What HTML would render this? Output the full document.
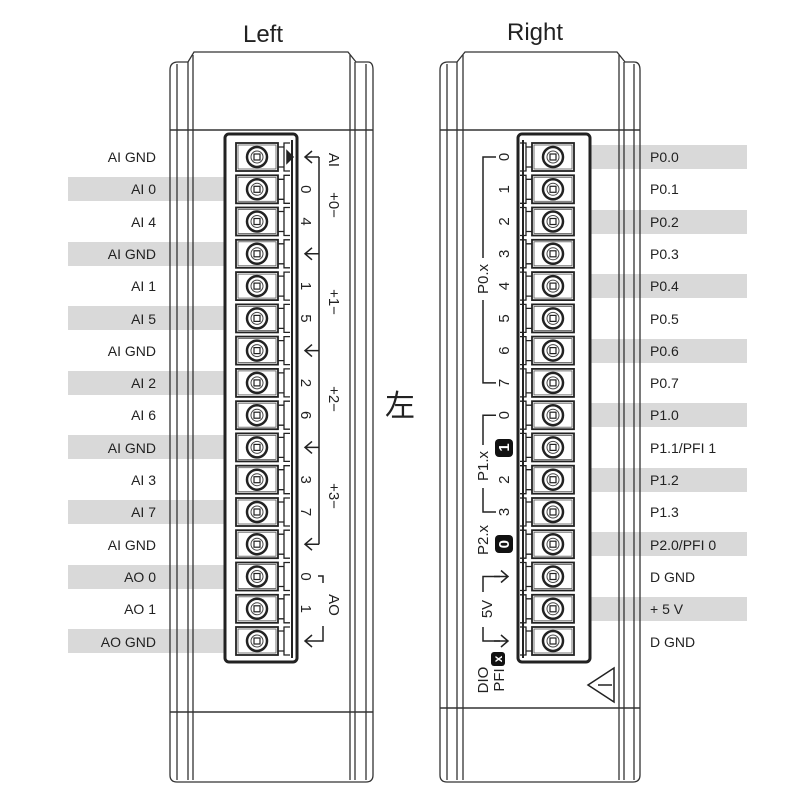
<!DOCTYPE html>
<html><head><meta charset="utf-8"><style>
html,body{margin:0;padding:0;background:#fff}
svg{display:block}
text{font-family:"Liberation Sans",sans-serif;fill:#222}
.lab{font-size:14px}
.rt{font-size:14px}
</style></head><body>
<svg width="800" height="800" viewBox="0 0 800 800" xmlns="http://www.w3.org/2000/svg">
<defs>
<g id="tl">
<rect x="-21" y="-14" width="42" height="28" fill="#fff" stroke="#222" stroke-width="1.8"/>
<rect x="-19" y="-12" width="38" height="24" fill="none" stroke="#555" stroke-width="0.8"/>
<circle r="10" fill="#fff" stroke="#222" stroke-width="2.5"/>
<circle r="6" fill="none" stroke="#444" stroke-width="1"/>
<rect x="-3" y="-3" width="6" height="6" fill="none" stroke="#222" stroke-width="1.2"/>
<path d="M21,-10 h6 v-4 h6 M21,10 h6 v4 h6 M27,-10 v20" fill="none" stroke="#222" stroke-width="1.3"/>
</g>
<g id="tr">
<rect x="-21" y="-14" width="42" height="28" fill="#fff" stroke="#222" stroke-width="1.8"/>
<rect x="-19" y="-12" width="38" height="24" fill="none" stroke="#555" stroke-width="0.8"/>
<circle r="10" fill="#fff" stroke="#222" stroke-width="2.5"/>
<circle r="6" fill="none" stroke="#444" stroke-width="1"/>
<rect x="-3" y="-3" width="6" height="6" fill="none" stroke="#222" stroke-width="1.2"/>
<path d="M-21,-10 h-6 v-4 h-6 M-21,10 h-6 v4 h-6 M-27,-10 v20" fill="none" stroke="#222" stroke-width="1.3"/>
</g>
<g id="arL"><path d="M0,0 h14 M7,-6 L0,0 L7,6" fill="none" stroke="#222" stroke-width="1.5"/></g>
<g id="arR"><path d="M0,0 h-14 M-7,-6 L0,0 L-7,6" fill="none" stroke="#222" stroke-width="1.5"/></g>
</defs>

<text x="263" y="42" font-size="24" text-anchor="middle" font-family="Liberation Sans">Left</text>
<text x="535" y="40" font-size="24" text-anchor="middle">Right</text>
<text x="400" y="416" font-size="30" text-anchor="middle" style="font-family:'Liberation Sans','Noto Sans CJK SC',sans-serif">左</text>

<!-- gray bars left -->
<g fill="#d9d9d9">
<rect x="68" y="177" width="156" height="24"/>
<rect x="68" y="242" width="156" height="24"/>
<rect x="68" y="306" width="156" height="24"/>
<rect x="68" y="371" width="156" height="24"/>
<rect x="68" y="435" width="156" height="24"/>
<rect x="68" y="500" width="156" height="24"/>
<rect x="68" y="565" width="156" height="24"/>
<rect x="68" y="629" width="156" height="24"/>
<!-- right -->
<rect x="590" y="145" width="157" height="24"/>
<rect x="590" y="210" width="157" height="24"/>
<rect x="590" y="274" width="157" height="24"/>
<rect x="590" y="339" width="157" height="24"/>
<rect x="590" y="403" width="157" height="24"/>
<rect x="590" y="468" width="157" height="24"/>
<rect x="590" y="532" width="157" height="24"/>
<rect x="590" y="597" width="157" height="24"/>
</g>

<!-- left device body -->
<g fill="none" stroke="#333" stroke-width="1.3">
<path d="M194,52 H348 L356,62 H368 Q373,62 373,70 V775 Q373,782 366,782 H177 Q170,782 170,775 V70 Q170,62 178,62 H188 Z"/>
<line x1="177" y1="64" x2="177" y2="780"/><line x1="188" y1="62" x2="188" y2="780"/><line x1="193" y1="55" x2="193" y2="780"/>
<line x1="350" y1="55" x2="350" y2="780"/><line x1="355" y1="62" x2="355" y2="780"/><line x1="366" y1="64" x2="366" y2="780"/>
<line x1="170" y1="130" x2="373" y2="130" stroke-width="1.6"/>
<line x1="170" y1="712" x2="373" y2="712" stroke-width="1.6"/>
</g>
<rect x="225" y="134" width="72" height="528" rx="4" fill="#fff" stroke="#222" stroke-width="3"/>
<line x1="292" y1="140" x2="292" y2="658" stroke="#222" stroke-width="2"/>

<!-- right device body -->
<g fill="none" stroke="#333" stroke-width="1.3">
<path d="M465,52 H617 L625,62 H634 Q640,62 640,70 V775 Q640,782 633,782 H447 Q440,782 440,775 V70 Q440,62 448,62 H457 Z"/>
<line x1="447" y1="64" x2="447" y2="780"/><line x1="457" y1="62" x2="457" y2="780"/><line x1="463" y1="55" x2="463" y2="780"/>
<line x1="619" y1="55" x2="619" y2="780"/><line x1="624" y1="62" x2="624" y2="780"/><line x1="634" y1="64" x2="634" y2="780"/>
<line x1="440" y1="130" x2="640" y2="130" stroke-width="1.6"/>
<line x1="440" y1="708" x2="640" y2="708" stroke-width="1.6"/>
</g>
<rect x="518" y="134" width="72" height="528" rx="4" fill="#fff" stroke="#222" stroke-width="3"/>
<line x1="523" y1="140" x2="523" y2="658" stroke="#222" stroke-width="2"/>
<path d="M614,668 L614,702 L588,685 Z M598,685 H612" fill="none" stroke="#222" stroke-width="1.5"/>

<!-- left terminals -->
<g>
<use href="#tl" x="257" y="157"/><use href="#tl" x="257" y="189.3"/><use href="#tl" x="257" y="221.5"/><use href="#tl" x="257" y="253.8"/>
<use href="#tl" x="257" y="286.1"/><use href="#tl" x="257" y="318.4"/><use href="#tl" x="257" y="350.6"/><use href="#tl" x="257" y="382.9"/>
<use href="#tl" x="257" y="415.2"/><use href="#tl" x="257" y="447.4"/><use href="#tl" x="257" y="479.7"/><use href="#tl" x="257" y="512"/>
<use href="#tl" x="257" y="544.2"/><use href="#tl" x="257" y="576.5"/><use href="#tl" x="257" y="608.8"/><use href="#tl" x="257" y="641"/>
</g>
<!-- right terminals -->
<g>
<use href="#tr" x="553" y="157"/><use href="#tr" x="553" y="189.3"/><use href="#tr" x="553" y="221.5"/><use href="#tr" x="553" y="253.8"/>
<use href="#tr" x="553" y="286.1"/><use href="#tr" x="553" y="318.4"/><use href="#tr" x="553" y="350.6"/><use href="#tr" x="553" y="382.9"/>
<use href="#tr" x="553" y="415.2"/><use href="#tr" x="553" y="447.4"/><use href="#tr" x="553" y="479.7"/><use href="#tr" x="553" y="512"/>
<use href="#tr" x="553" y="544.2"/><use href="#tr" x="553" y="576.5"/><use href="#tr" x="553" y="608.8"/><use href="#tr" x="553" y="641"/>
</g>

<!-- left labels -->
<g class="lab" text-anchor="end">
<text x="156" y="162">AI GND</text><text x="156" y="194">AI 0</text><text x="156" y="227">AI 4</text><text x="156" y="259">AI GND</text>
<text x="156" y="291">AI 1</text><text x="156" y="324">AI 5</text><text x="156" y="356">AI GND</text><text x="156" y="388">AI 2</text>
<text x="156" y="420">AI 6</text><text x="156" y="453">AI GND</text><text x="156" y="485">AI 3</text><text x="156" y="517">AI 7</text>
<text x="156" y="550">AI GND</text><text x="156" y="582">AO 0</text><text x="156" y="614">AO 1</text><text x="156" y="647">AO GND</text>
</g>
<!-- right labels -->
<g class="lab">
<text x="650" y="162">P0.0</text><text x="650" y="194">P0.1</text><text x="650" y="227">P0.2</text><text x="650" y="259">P0.3</text>
<text x="650" y="291">P0.4</text><text x="650" y="324">P0.5</text><text x="650" y="356">P0.6</text><text x="650" y="388">P0.7</text>
<text x="650" y="420">P1.0</text><text x="650" y="453">P1.1/PFI 1</text><text x="650" y="485">P1.2</text><text x="650" y="517">P1.3</text>
<text x="650" y="550">P2.0/PFI 0</text><text x="650" y="582">D GND</text><text x="650" y="614">+ 5 V</text><text x="650" y="647">D GND</text>
</g>

<!-- left side annotations -->
<g fill="none" stroke="#222" stroke-width="1.5">
<use href="#arL" x="305" y="157"/><use href="#arL" x="305" y="253.8"/><use href="#arL" x="305" y="350.6"/>
<use href="#arL" x="305" y="447.4"/><use href="#arL" x="305" y="544.2"/><use href="#arL" x="305" y="641"/>
<path d="M319,157 V253.8 M319,253.8 V350.6 M319,350.6 V447.4 M319,447.4 V544.2 H319"/>
<path d="M319,641 H323 V626 M323,583 V576 H318"/>
<polygon points="287,151 293,157 287,163" fill="#222"/>
</g>
<g font-size="15" text-anchor="middle">
<text transform="translate(306,189.3) rotate(90)" dy="5">0</text>
<text transform="translate(306,221.5) rotate(90)" dy="5">4</text>
<text transform="translate(306,286.1) rotate(90)" dy="5">1</text>
<text transform="translate(306,318.4) rotate(90)" dy="5">5</text>
<text transform="translate(306,382.9) rotate(90)" dy="5">2</text>
<text transform="translate(306,415.2) rotate(90)" dy="5">6</text>
<text transform="translate(306,479.7) rotate(90)" dy="5">3</text>
<text transform="translate(306,512) rotate(90)" dy="5">7</text>
<text transform="translate(306,576.5) rotate(90)" dy="5">0</text>
<text transform="translate(306,608.8) rotate(90)" dy="5">1</text>
<text transform="translate(334,160) rotate(90)" dy="5">AI</text>
<text transform="translate(334,205) rotate(90)" dy="5">+0−</text>
<text transform="translate(334,302) rotate(90)" dy="5">+1−</text>
<text transform="translate(334,399) rotate(90)" dy="5">+2−</text>
<text transform="translate(334,496) rotate(90)" dy="5">+3−</text>
<text transform="translate(334,605) rotate(90)" dy="5">AO</text>
</g>

<!-- right side annotations -->
<g fill="none" stroke="#222" stroke-width="1.5">
<path d="M496,157 H483 V258 M483,300 V382.9 H496"/>
<path d="M496,415.2 H483 V445 M483,488 V512 H496"/>
<path d="M500,576.5 H483 V592 M483,627 V641 H500"/>
<use href="#arR" x="508" y="576.5"/><use href="#arR" x="508" y="641"/>
</g>
<rect x="495" y="439" width="18" height="18" rx="4" fill="#111"/>
<rect x="495" y="535" width="18" height="18" rx="4" fill="#111"/>
<rect x="491" y="652" width="14" height="14" rx="3" fill="#111"/>
<g font-size="15" text-anchor="middle">
<text transform="translate(504,157) rotate(-90)" dy="5">0</text>
<text transform="translate(504,189.3) rotate(-90)" dy="5">1</text>
<text transform="translate(504,221.5) rotate(-90)" dy="5">2</text>
<text transform="translate(504,253.8) rotate(-90)" dy="5">3</text>
<text transform="translate(504,286.1) rotate(-90)" dy="5">4</text>
<text transform="translate(504,318.4) rotate(-90)" dy="5">5</text>
<text transform="translate(504,350.6) rotate(-90)" dy="5">6</text>
<text transform="translate(504,382.9) rotate(-90)" dy="5">7</text>
<text transform="translate(504,415.2) rotate(-90)" dy="5">0</text>
<text transform="translate(504,447.4) rotate(-90)" dy="5" style="fill:#fff;font-weight:bold">1</text>
<text transform="translate(504,479.7) rotate(-90)" dy="5">2</text>
<text transform="translate(504,512) rotate(-90)" dy="5">3</text>
<text transform="translate(504,544.2) rotate(-90)" dy="5" style="fill:#fff;font-weight:bold">0</text>
<text transform="translate(483,279) rotate(-90)" dy="5">P0.x</text>
<text transform="translate(483,466) rotate(-90)" dy="5">P1.x</text>
<text transform="translate(483,540) rotate(-90)" dy="5">P2.x</text>
<text transform="translate(487,609) rotate(-90)" dy="5">5V</text>
<text transform="translate(483,680) rotate(-90)" dy="5">DIO</text>
<text transform="translate(499,680) rotate(-90)" dy="5">PFI</text>
<text transform="translate(498,659) rotate(-90)" dy="4" style="fill:#fff;font-size:12px;font-weight:bold">x</text>
</g>
</svg>
</body></html>
